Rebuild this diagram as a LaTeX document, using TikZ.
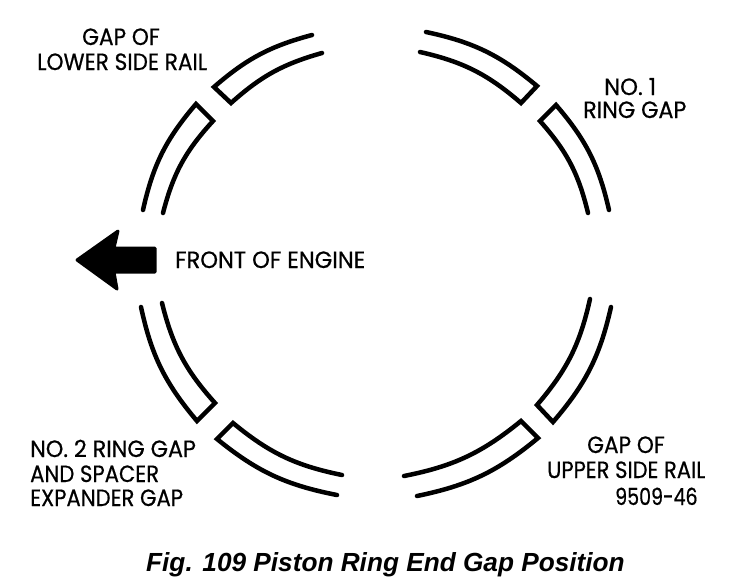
\documentclass[tikz,border=0pt]{standalone}
\usepackage{graphicx}
\usepackage{fontspec}
\setmainfont[FakeStretch=0.92,FakeBold=0.6]{Poppins}
\newfontfamily\titlefont[BoldItalicFont={Liberation Sans Bold Italic}]{Liberation Sans}
\tikzset{
  ringline/.style={line width=4.5pt,line join=miter,line cap=round,black},
  lab/.style={anchor=base west,inner sep=0pt,font=\fontsize{23.5}{23.5}\selectfont},
}
\begin{document}
\begin{tikzpicture}[x=1pt,y=-1pt]
\useasboundingbox (0,0) rectangle (736,584);
% top left
\draw[ringline] (312,35) to[bend right=13] (214,87) -- (231,103) to[bend left=13] (322,53);
\draw[ringline] (143,210) to[bend left=14] (196,104) -- (213,121) to[bend right=14] (163,213);
% top right
\draw[ringline] (426,32) to[bend left=14] (537,86) -- (521,103) to[bend right=14] (420,52);
\draw[ringline] (609,210) to[bend right=14] (556,105) -- (540,121) to[bend left=14] (588,213);
% bottom right
\draw[ringline] (590,299) to[bend left=14] (537,405) -- (553,422) to[bend right=14] (611,307);
\draw[ringline] (404,476) to[bend right=14] (521,421) -- (538,438) to[bend left=14] (417,496);
% bottom left
\draw[ringline] (141,307) to[bend right=14] (197,421) -- (215,403) to[bend left=14] (162,303);
\draw[ringline] (342,475) to[bend left=14] (233,423) -- (217,439) to[bend right=14] (337,495);
% arrow
\fill[black,draw=black,line width=3pt,line join=round]
  (77,260) -- (118,231) -- (114,248) -- (155,248) -- (155,272) -- (114,272) -- (117,289) -- cycle;
% labels
\node[lab] (a1) at (82,45) {GAP OF};
\node[lab] (a2) at (37,70) {LOWER SIDE RAIL};
\node[lab] (b1) at (604,95) {\scalebox{1.05}[1]{NO. 1}};
\node[lab] (b2) at (583,118) {\scalebox{1.03}[1]{RING GAP}};
\node[lab] (c) at (175,268) {\scalebox{1.044}[1]{FRONT OF ENGINE}};
\node[lab] (d1) at (30,457) {\scalebox{1.03}[1]{NO. 2 RING GAP}};
\node[lab] (d2) at (30,482) {\scalebox{0.98}[1]{AND SPACER}};
\node[lab] (d3) at (30,506) {\scalebox{0.98}[1]{EXPANDER GAP}};
\node[lab] (e1) at (587,453) {GAP OF};
\node[lab] (e2) at (547,478) {\scalebox{0.975}[1]{UPPER SIDE RAIL}};
\node[lab] (e3) at (615,505) {\scalebox{0.88}[1]{9509-46}};
\node[anchor=base west,inner sep=0pt] (t) at (146,571) {\titlefont\fontsize{26.2}{26.2}\selectfont\bfseries\itshape Fig. 109 Piston Ring End Gap Position};
\end{tikzpicture}
\end{document}
